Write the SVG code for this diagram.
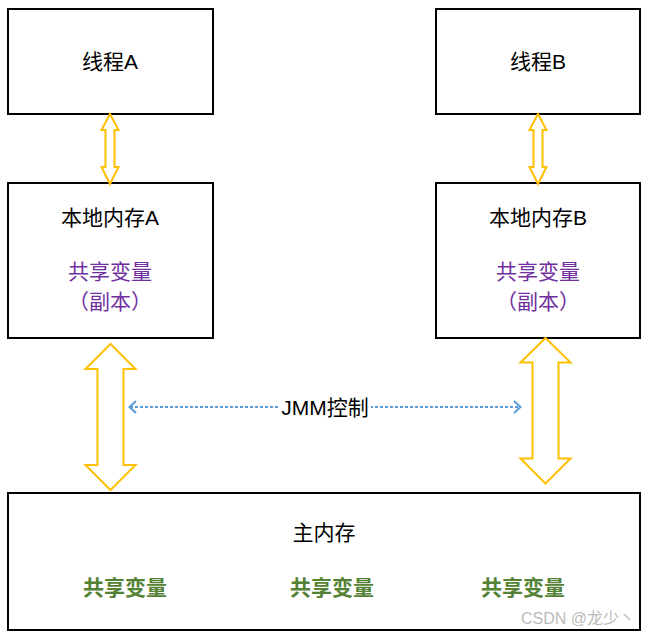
<svg xmlns="http://www.w3.org/2000/svg" width="651" height="638" viewBox="0 0 651 638">
<style>
.box{fill:#fff;stroke:#000;stroke-width:2}
.t{font-family:"Liberation Sans","Noto Sans CJK SC",sans-serif;font-size:21px;fill:#000;text-anchor:middle}
.p{fill:#7030A0}
.g{fill:#548235;font-weight:bold}
.arr{fill:#fff;stroke:#FFC000;stroke-width:2;stroke-linejoin:miter}
.dash{stroke:#5B9BD5;stroke-width:1.8;stroke-dasharray:3 2;fill:none}
.head{stroke:#5B9BD5;stroke-width:2;fill:none}
</style>
<rect width="651" height="638" fill="#fff"/>
<g id="threadA"><rect class="box" x="8" y="9" width="205" height="105"/><text class="t" x="110" y="69">线程A</text></g>
<g id="threadB"><rect class="box" x="436" y="9" width="204" height="105"/><text class="t" x="538" y="69">线程B</text></g>
<g id="localA"><rect class="box" x="8" y="183" width="205" height="155"/>
<text class="t" x="110" y="225">本地内存A</text>
<text class="t p" x="110" y="279">共享变量</text>
<text class="t p" x="110" y="309">（副本）</text></g>
<g id="localB"><rect class="box" x="436" y="183" width="204" height="155"/>
<text class="t" x="538" y="225">本地内存B</text>
<text class="t p" x="538" y="279">共享变量</text>
<text class="t p" x="538" y="309">（副本）</text></g>
<g id="main"><rect class="box" x="8" y="493" width="632" height="137"/>
<text class="t" x="324" y="540">主内存</text>
<text class="t g" x="125" y="595">共享变量</text>
<text class="t g" x="332" y="595">共享变量</text>
<text class="t g" x="523" y="595">共享变量</text></g>
<g id="connectors">
<path class="arr" d="M110,114 L118.5,130 L114.5,130 L114.5,167 L118.5,167 L110,184 L101.5,167 L105.5,167 L105.5,130 L101.5,130 Z"/>
<path class="arr" d="M538,114 L546.5,130 L542.5,130 L542.5,167 L546.5,167 L538,184 L529.5,167 L533.5,167 L533.5,130 L529.5,130 Z"/>
<path class="arr" d="M110.5,344 L135.5,369 L123.5,369 L123.5,465 L135.5,465 L110.5,490 L85.5,465 L97.5,465 L97.5,369 L85.5,369 Z"/>
<path class="arr" d="M545.5,338 L570.5,362.5 L558.5,362.5 L558.5,458.5 L570.5,458.5 L545.5,483.5 L520.5,458.5 L532.5,458.5 L532.5,362.5 L520.5,362.5 Z"/>
<line class="dash" x1="130" y1="407" x2="520" y2="407"/>
<path class="head" d="M136,401 L129.5,407 L136,413"/>
<path class="head" d="M514,401 L520.5,407 L514,413"/>
<rect x="280" y="395" width="91" height="24" fill="#fff"/>
<text class="t" x="325" y="415">JMM控制</text>
</g>
<text x="635" y="624" style="font-family:'Liberation Sans','Noto Sans CJK SC',sans-serif;font-size:16px;fill:#bbb;text-anchor:end">CSDN @龙少丶</text>
</svg>
